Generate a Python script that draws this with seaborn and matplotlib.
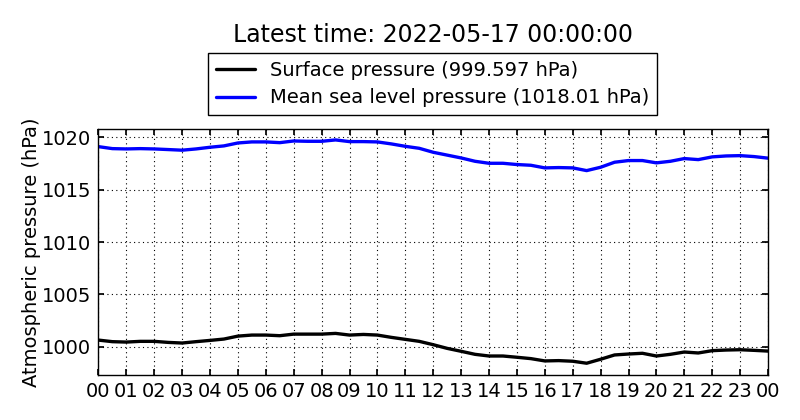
import numpy as np
import pandas as pd
import matplotlib
matplotlib.use('Agg')
import matplotlib.pyplot as plt
import matplotlib.dates as mdates
import seaborn as sns

# ─── Data (half-hour steps) ─────────────────────────────────────────────────
START = '2022-05-16 00:00'
END = '2022-05-17 00:00'
TITLE = 'Latest time: 2022-05-17 00:00:00'

hours = [h / 2 for h in range(49)]

surface = [
    1000.63, 1000.48, 1000.44, 1000.51, 1000.51, 1000.41, 1000.35, 1000.48,
    1000.60, 1000.73, 1001.01, 1001.11, 1001.11, 1001.05, 1001.20, 1001.20,
    1001.20, 1001.27, 1001.11, 1001.17, 1001.11, 1000.89, 1000.70, 1000.51,
    1000.19, 999.84, 999.56, 999.27, 999.11, 999.11, 998.99, 998.86,
    998.64, 998.67, 998.61, 998.42, 998.80, 999.21, 999.30, 999.37,
    999.11, 999.27, 999.49, 999.40, 999.62, 999.68, 999.71, 999.65,
    999.58,
]

msl = [
    1019.11, 1018.92, 1018.89, 1018.92, 1018.89, 1018.83, 1018.77, 1018.89,
    1019.05, 1019.18, 1019.46, 1019.56, 1019.56, 1019.49, 1019.65, 1019.62,
    1019.62, 1019.75, 1019.59, 1019.59, 1019.56, 1019.37, 1019.14, 1018.95,
    1018.57, 1018.30, 1018.03, 1017.71, 1017.52, 1017.52, 1017.40, 1017.33,
    1017.08, 1017.11, 1017.08, 1016.82, 1017.14, 1017.62, 1017.78, 1017.78,
    1017.56, 1017.71, 1017.97, 1017.87, 1018.13, 1018.22, 1018.25, 1018.16,
    1018.01,
]

surface_label = 'Surface pressure (999.597 hPa)'
msl_label = 'Mean sea level pressure (1018.01 hPa)'
YLABEL = 'Atmospheric pressure (hPa)'
YTICKS = [1000, 1005, 1010, 1015, 1020]
YLIM = (997.33, 1020.8)
# ────────────────────────────────────────────────────────────────────────────


def main():
    times = pd.Timestamp(START) + pd.to_timedelta(hours, unit='h')
    df = pd.DataFrame({'time': times, 'surface': surface, 'msl': msl})

    sns.set_theme(style='white', rc={
        'axes.edgecolor': 'black',
        'axes.linewidth': 1.0,
        'xtick.direction': 'in',
        'ytick.direction': 'in',
        'xtick.top': True,
        'ytick.right': True,
        'xtick.bottom': True,
        'ytick.left': True,
        'xtick.major.size': 4,
        'ytick.major.size': 4,
        'xtick.color': 'black',
        'ytick.color': 'black',
        'text.color': 'black',
        'axes.labelcolor': 'black',
    })
    plt.rcParams['font.family'] = ['DejaVu Sans']

    fig = plt.figure(figsize=(8, 4.2), dpi=100)
    ax = fig.add_axes([0.123, 0.108, 0.837, 0.585])

    sns.lineplot(data=df, x='time', y='surface', ax=ax, color='black',
                 linewidth=2.4, label=surface_label)
    sns.lineplot(data=df, x='time', y='msl', ax=ax, color='blue',
                 linewidth=2.4, label=msl_label)

    ax.set_xlim(pd.Timestamp(START), pd.Timestamp(END))
    ax.set_ylim(*YLIM)
    ax.set_yticks(YTICKS)
    ax.xaxis.set_major_locator(mdates.HourLocator(interval=1))
    ax.xaxis.set_major_formatter(mdates.DateFormatter('%H'))
    ax.tick_params(labelsize=14, pad=5)

    ax.set_xlabel('')
    ax.set_ylabel(YLABEL, fontsize=14, labelpad=1)
    ax.grid(True, linestyle=(0, (1, 3)), color='black', linewidth=0.8)

    leg = ax.legend(loc='upper center', bbox_to_anchor=(0.541, 0.874),
                    bbox_transform=fig.transFigure, fontsize=14,
                    frameon=True, fancybox=False, shadow=False,
                    framealpha=1, edgecolor='black', borderaxespad=0,
                    handlelength=2.0, labelspacing=0.45, borderpad=0.4)
    leg.get_frame().set_linewidth(1.0)

    fig.suptitle(TITLE, x=0.541, y=1 - 35 / 420, va='center', fontsize=17)

    fig.savefig('out.png', dpi=100)
    plt.close(fig)


if __name__ == '__main__':
    main()
